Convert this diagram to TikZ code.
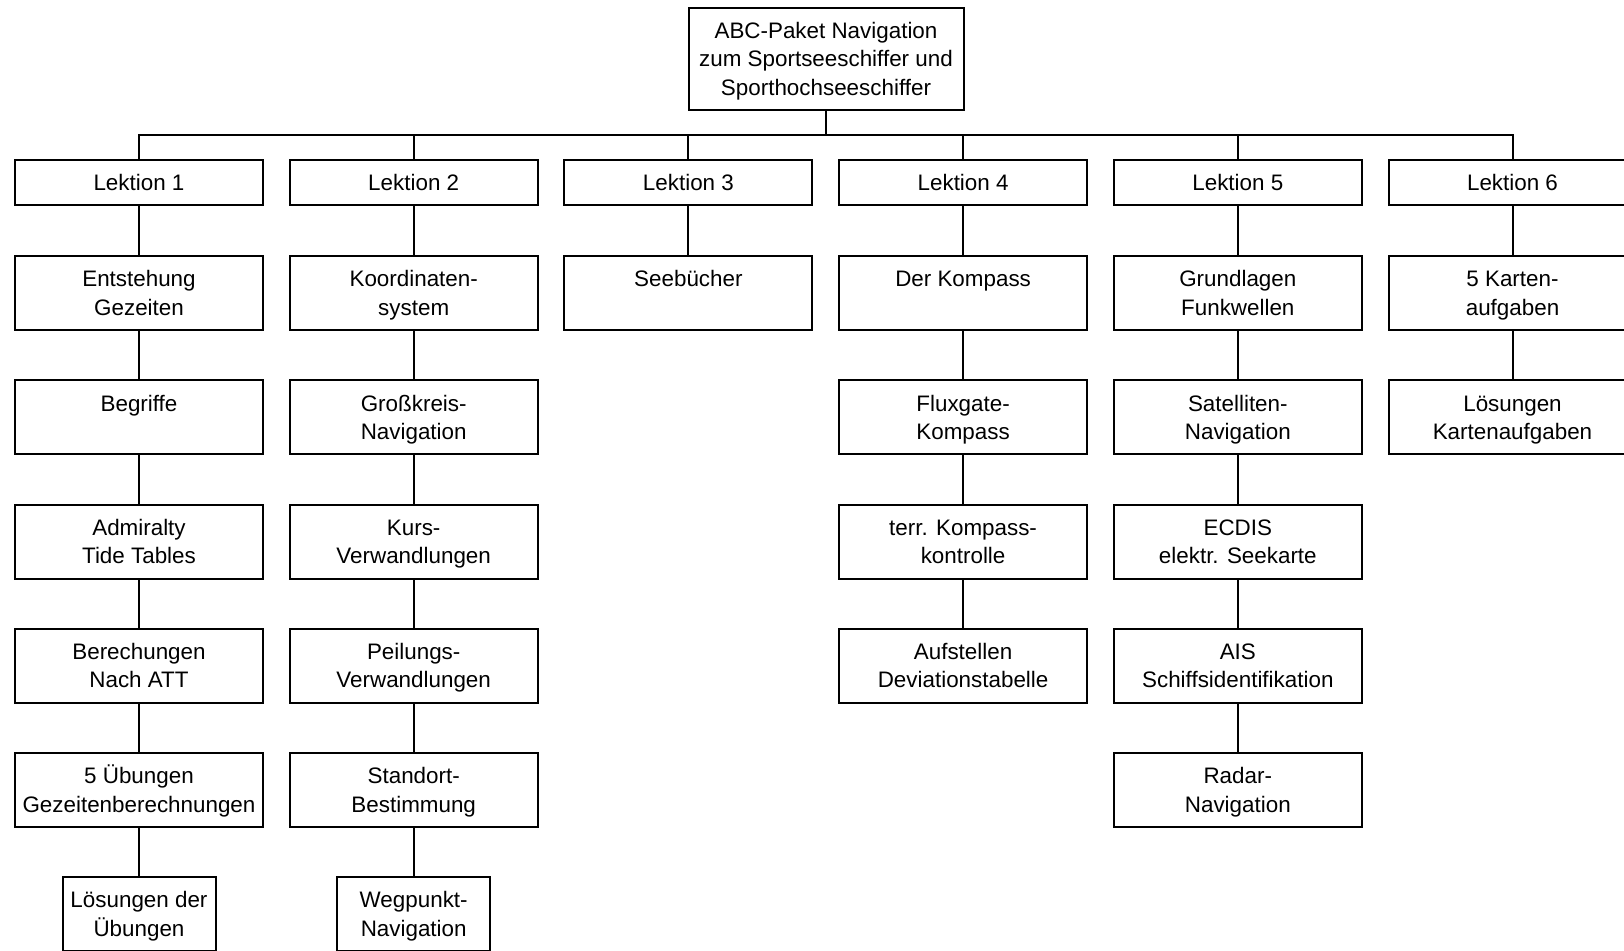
\documentclass[tikz,border=0pt]{standalone}
\usepackage{fontspec}
\setmainfont{Liberation Sans}
\usepackage{tikz}
\newcommand{\vstrut}{\rule[-3pt]{0pt}{14pt}}
\newcommand{\twolines}[2]{\vstrut#1\\\vstrut#2}
\tikzset{box/.style={draw=black,line width=1pt,fill=white,align=center,inner sep=0pt,font=\fontsize{11.2}{14.2}\selectfont}, head/.style={box,minimum width=137.5pt,minimum height=51pt}, lektion/.style={box,minimum width=124pt,minimum height=22.5pt}, topic/.style={box,minimum width=124pt,minimum height=37pt}, narrow/.style={box,minimum width=76.5pt,minimum height=37pt}, link/.style={draw=black,line width=1pt}}

\begin{document}
\begin{tikzpicture}[x=0.5pt,y=-0.5pt]
\useasboundingbox (0,0) rectangle (1624,950);
\clip (0,0) rectangle (1624,950);
\node[head] (top) at (826,58.7) {\vstrut ABC-Paket Navigation\\\vstrut zum Sportseeschiffer und\\\vstrut Sporthochseeschiffer};
\node[lektion] (l1) at (139,182.7) {Lektion 1};
\node[lektion] (l2) at (413.7,182.7) {Lektion 2};
\node[lektion] (l3) at (688.4,182.7) {Lektion 3};
\node[lektion] (l4) at (963.1,182.7) {Lektion 4};
\node[lektion] (l5) at (1237.8,182.7) {Lektion 5};
\node[lektion] (l6) at (1512.5,182.7) {Lektion 6};
% Lektion 1
\node[topic] (l1a) at (139,293) {\twolines{Entstehung}{Gezeiten}};
\node[topic] (l1b) at (139,417.3) {\twolines{Begriffe}{}};
\node[topic] (l1c) at (139,541.5) {\twolines{Admiralty}{Tide Tables}};
\node[topic] (l1d) at (139,665.7) {\twolines{Berechungen}{Nach ATT}};
\node[topic] (l1e) at (139,789.9) {\twolines{5 Übungen}{Gezeitenberechnungen}};
\node[narrow] (l1f) at (139,914.1) {\twolines{Lösungen der}{Übungen}};
% Lektion 2
\node[topic] (l2a) at (413.7,293) {\twolines{Koordinaten-}{system}};
\node[topic] (l2b) at (413.7,417.3) {\twolines{Großkreis-}{Navigation}};
\node[topic] (l2c) at (413.7,541.5) {\twolines{Kurs-}{Verwandlungen}};
\node[topic] (l2d) at (413.7,665.7) {\twolines{Peilungs-}{Verwandlungen}};
\node[topic] (l2e) at (413.7,789.9) {\twolines{Standort-}{Bestimmung}};
\node[narrow] (l2f) at (413.7,914.1) {\twolines{Wegpunkt-}{Navigation}};
% Lektion 3
\node[topic] (l3a) at (688.4,293) {\twolines{Seebücher}{}};
% Lektion 4
\node[topic] (l4a) at (963.1,293) {\twolines{Der Kompass}{}};
\node[topic] (l4b) at (963.1,417.3) {\twolines{Fluxgate-}{Kompass}};
\node[topic] (l4c) at (963.1,541.5) {\twolines{terr. Kompass-}{kontrolle}};
\node[topic] (l4d) at (963.1,665.7) {\twolines{Aufstellen}{Deviationstabelle}};
% Lektion 5
\node[topic] (l5a) at (1237.8,293) {\twolines{Grundlagen}{Funkwellen}};
\node[topic] (l5b) at (1237.8,417.3) {\twolines{Satelliten-}{Navigation}};
\node[topic] (l5c) at (1237.8,541.5) {\twolines{ECDIS}{elektr. Seekarte}};
\node[topic] (l5d) at (1237.8,665.7) {\twolines{AIS}{Schiffsidentifikation}};
\node[topic] (l5e) at (1237.8,789.9) {\twolines{Radar-}{Navigation}};
% Lektion 6
\node[topic] (l6a) at (1512.5,293) {\twolines{5 Karten-}{aufgaben}};
\node[topic] (l6b) at (1512.5,417.3) {\twolines{Lösungen}{Kartenaufgaben}};
% tree lines
\coordinate (bus) at (826,135);
\draw[link] (top.south) -- (bus);
\draw[link] (l1.north) |- (bus) -| (l6.north);
\draw[link] (l2.north) -- (l2.north |- bus) (l3.north) -- (l3.north |- bus) (l4.north) -- (l4.north |- bus) (l5.north) -- (l5.north |- bus);
\draw[link] (l1.south) -- (l1a.north) (l1a.south) -- (l1b.north) (l1b.south) -- (l1c.north) (l1c.south) -- (l1d.north) (l1d.south) -- (l1e.north) (l1e.south) -- (l1f.north);
\draw[link] (l2.south) -- (l2a.north) (l2a.south) -- (l2b.north) (l2b.south) -- (l2c.north) (l2c.south) -- (l2d.north) (l2d.south) -- (l2e.north) (l2e.south) -- (l2f.north);
\draw[link] (l3.south) -- (l3a.north);
\draw[link] (l4.south) -- (l4a.north) (l4a.south) -- (l4b.north) (l4b.south) -- (l4c.north) (l4c.south) -- (l4d.north);
\draw[link] (l5.south) -- (l5a.north) (l5a.south) -- (l5b.north) (l5b.south) -- (l5c.north) (l5c.south) -- (l5d.north) (l5d.south) -- (l5e.north);
\draw[link] (l6.south) -- (l6a.north) (l6a.south) -- (l6b.north);
\end{tikzpicture}
\end{document}
